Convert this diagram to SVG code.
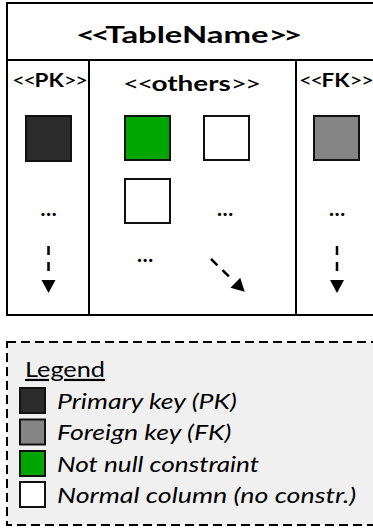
<svg xmlns="http://www.w3.org/2000/svg" width="373" height="528" viewBox="0 0 373 528">
  <style>
    .t { font-family: Lato, "Open Sans", "Liberation Sans", sans-serif; fill: #000; }
    .b { font-weight: bold; }
    .it { font-style: italic; font-size: 22px; }
    .frame { fill: #fff; stroke: #000; stroke-width: 2; }
    .rule { stroke: #000; stroke-width: 2; }
    .cell { stroke: #111; stroke-width: 2; }
    .pk { fill: #2b2b2b; }
    .fk { fill: #858585; }
    .nn { fill: #00a600; }
    .nc { fill: #ffffff; }
    .flow { stroke: #000; stroke-width: 2.5; stroke-dasharray: 9 7; fill: none; marker-end: url(#head); }
    .dots { font-size: 21px; font-weight: bold; text-anchor: middle; }
  </style>
  <defs>
    <marker id="head" markerUnits="userSpaceOnUse" viewBox="0 0 13 14" refX="-9" refY="7" markerWidth="13" markerHeight="14" orient="auto" overflow="visible">
      <path d="M0,0 L13,7 L0,14 Z" fill="#000"/>
    </marker>
  </defs>

  <!-- table frame and title -->
  <g id="table">
    <rect class="frame" x="7" y="3" width="380" height="312"/>
    <line class="rule" x1="7" y1="60" x2="380" y2="60"/>
    <line class="rule" x1="89" y1="60" x2="89" y2="315"/>
    <line class="rule" x1="296" y1="60" x2="296" y2="315"/>
    <text class="t b" transform="translate(76,43) scale(1.46,1)" font-size="22.5"><tspan letter-spacing="-3">&lt;&lt;</tspan>TableName<tspan letter-spacing="-3">&gt;&gt;</tspan></text>
  </g>

  <!-- primary key column -->
  <g id="col-pk">
    <text class="t" transform="translate(12,87) scale(1.15,1)" font-size="19.5"><tspan letter-spacing="-1.5">&lt;&lt;</tspan><tspan class="b">PK</tspan><tspan letter-spacing="-1.5">&gt;&gt;</tspan></text>
    <rect class="cell pk" x="26" y="116" width="45" height="45"/>
    <text class="t dots" x="48.5" y="216">…</text>
  </g>

  <!-- other columns -->
  <g id="col-others">
    <text class="t" transform="translate(123,91) scale(1.33,1)" font-size="21"><tspan letter-spacing="-1.5">&lt;&lt;</tspan><tspan class="b">others</tspan><tspan letter-spacing="-1.5">&gt;&gt;</tspan></text>
    <rect class="cell nn" x="125" y="116" width="45" height="44"/>
    <rect class="cell nc" x="204" y="116" width="45" height="44"/>
    <rect class="cell nc" x="125" y="179" width="45" height="44"/>
    <text class="t dots" x="225" y="216">…</text>
    <text class="t dots" x="145" y="262">…</text>
  </g>

  <!-- foreign key column -->
  <g id="col-fk">
    <text class="t" transform="translate(299,87) scale(1.15,1)" font-size="19.5"><tspan letter-spacing="-1.5">&lt;&lt;</tspan><tspan class="b">FK</tspan><tspan letter-spacing="-1.5">&gt;&gt;</tspan></text>
    <rect class="cell fk" x="314" y="116" width="45" height="44"/>
    <text class="t dots" x="337" y="216">…</text>
  </g>

  <!-- continuation arrows -->
  <g id="connectors">
    <line class="flow" x1="48.5" y1="246" x2="48.5" y2="271"/>
    <line class="flow" x1="337" y1="246" x2="337" y2="271"/>
    <line class="flow" x1="211" y1="259" x2="228.9" y2="276.4"/>
  </g>

  <!-- legend -->
  <g id="legend">
    <rect x="7" y="342" width="380" height="183" fill="#f0f0f0" stroke="#000" stroke-width="2" stroke-dasharray="9 5"/>
    <text class="t" transform="translate(25,377) scale(1.15,1)" font-size="22" text-decoration="underline">Legend</text>
    <rect class="cell pk" x="20" y="388" width="25" height="25"/>
    <text class="t it" transform="translate(57,409) scale(1.21,1)">Primary key (PK)</text>
    <rect class="cell fk" x="20" y="419.5" width="25" height="25"/>
    <text class="t it" transform="translate(57,440) scale(1.21,1)">Foreign key (FK)</text>
    <rect class="cell nn" x="20" y="451" width="25" height="25"/>
    <text class="t it" transform="translate(57,472) scale(1.19,1)">Not null constraint</text>
    <rect class="cell nc" x="20" y="482" width="25" height="25"/>
    <text class="t it" transform="translate(57,503) scale(1.22,1)">Normal column (no constr.)</text>
  </g>
</svg>
